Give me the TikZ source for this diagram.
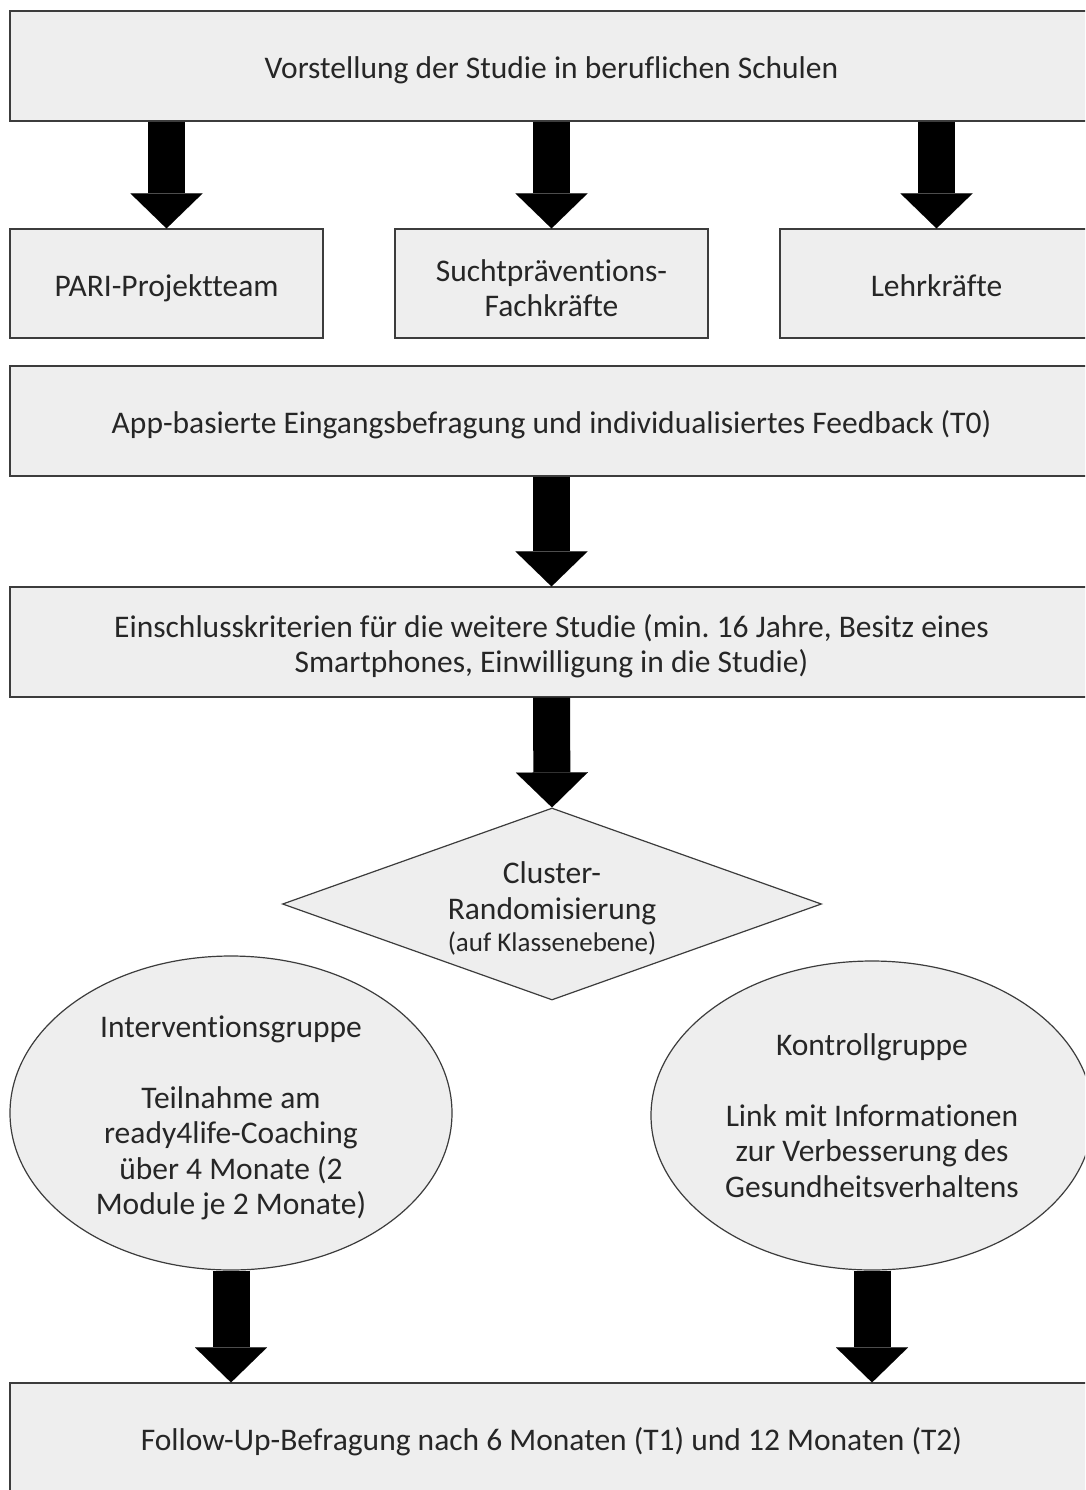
\documentclass[tikz,border=0pt]{standalone}
\usepackage{fontspec}
\setmainfont{Carlito}[Ligatures=NoCommon]
\usetikzlibrary{arrows.meta,shapes.geometric}
\definecolor{boxfill}{RGB}{238,238,238}
\definecolor{boxline}{RGB}{60,60,60}
\frenchspacing
\newcommand{\up}{\rule{0pt}{31pt}}
\tikzset{
  base/.style={draw=boxline, fill=boxfill, line width=1.2pt, text=black!85,
    font=\fontsize{31.5}{35.5}\selectfont, align=center, inner sep=0pt},
  lower/.style={execute at begin node={\rule{0pt}{#1}}},
  lower/.default=31pt,
  wbox/.style={base, rectangle, minimum width=1083pt, minimum height=110pt},
  sbox/.style={base, rectangle, minimum width=313pt, minimum height=109pt},
  dia/.style={base, diamond, aspect=2.8, minimum width=539pt, minimum height=192pt},
  ell/.style={base, ellipse, minimum width=442pt, minimum height=312pt},
  barrow/.style={line width=37pt, black,
    -{Triangle[width=72pt,length=35pt,line width=0.01pt]}},
}
\begin{document}
\begin{tikzpicture}[x=1pt,y=-1pt]
\clip (0,0) rectangle (1085,1490);
\fill[white] (0,0) rectangle (1085,1490);
\node[wbox, lower] (top) at (551.5,66) {Vorstellung der Studie in beruflichen Schulen};
\node[sbox, lower] (pari) at (166.5,283.5) {PARI-Projektteam};
\node[sbox] (sucht) at (551.5,283.5) {\up Suchtpräventions-\\Fachkräfte};
\node[sbox, lower=27pt] (lehr) at (936.5,283.5) {Lehrkräfte};
\node[wbox, lower] (app) at (551.5,421) {App-basierte Eingangsbefragung und individualisiertes Feedback (T0)};
\node[wbox] (ein) at (551.5,642) {\up Einschlusskriterien für die weitere Studie (min. 16 Jahre, Besitz eines\\Smartphones, Einwilligung in die Studie)};
\node[dia] (rand) at (552,904) {\up Cluster-\\Randomisierung\\[-3pt]{\fontsize{27}{30}\selectfont(auf Klassenebene)}};
\node[ell, minimum height=314pt] (int) at (231,1113) {\up Interventionsgruppe\\[35.5pt]Teilnahme am\\ready4life-Coaching\\über 4 Monate (2\\Module je 2 Monate)};
\node[ell, minimum height=309pt] (kon) at (872,1115.5) {Kontrollgruppe\\[35.5pt]Link mit Informationen\\zur Verbesserung des\\Gesundheitsverhaltens};
\node[wbox, lower] (fu) at (551.5,1438) {Follow-Up-Befragung nach 6 Monaten (T1) und 12 Monaten (T2)};
\draw[barrow] (top.south -| pari.north) -- (pari.north);
\draw[barrow] (top.south -| sucht.north) -- (sucht.north);
\draw[barrow] (top.south -| lehr.north) -- (lehr.north);
\draw[barrow] (app.south) -- (ein.north);
\draw[barrow] (ein.south) -- (rand.north);
\draw[barrow] (int.south) -- (fu.north -| int.south);
\draw[barrow] (kon.south) -- (fu.north -| kon.south);
\end{tikzpicture}
\end{document}
